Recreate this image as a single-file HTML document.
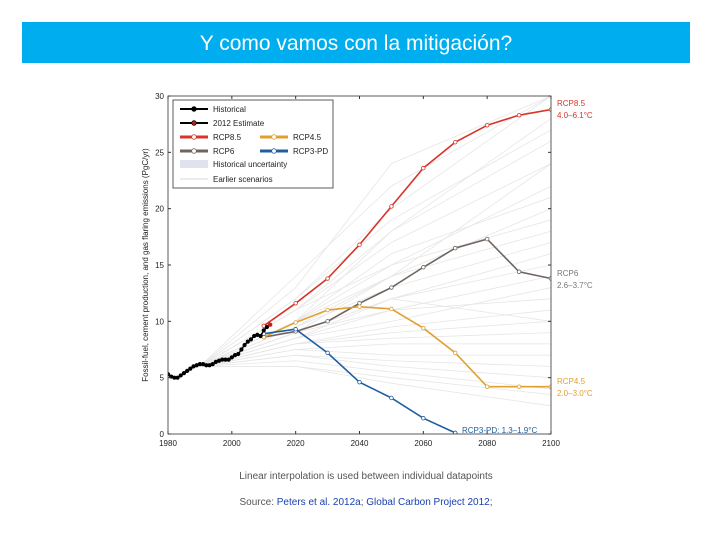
<!DOCTYPE html>
<html><head><meta charset="utf-8"><style>
body{margin:0;width:720px;height:540px;background:#fff;font-family:"Liberation Sans",sans-serif;overflow:hidden;position:relative}
#title{position:absolute;left:22px;top:22px;width:668px;height:41px;background:#00aeef;color:#fff;font-size:21px;text-align:center;line-height:44px}
.cap{position:absolute;width:720px;left:6px;text-align:center;font-size:10px;color:#555}
.cap a{color:#1a3fb0}
svg{position:absolute;left:0;top:0}
</style></head><body>
<div id="title">Y como vamos con la mitigación?</div>
<svg id="chart" width="720" height="540"></svg>
<div class="cap" style="top:471px">Linear interpolation is used between individual datapoints</div>
<div class="cap" style="top:497px">Source: <a>Peters et al. 2012a</a>; <a>Global Carbon Project 2012</a>;</div>
<script>
const xTicks=[1980,2000,2020,2040,2060,2080,2100];
const yTicks=[0,5,10,15,20,25,30];
const decades=[2010,2020,2030,2040,2050,2060,2070,2080,2090,2100];
const rcp85=[9.6,11.6,13.8,16.8,20.2,23.6,25.9,27.4,28.3,28.8];
const rcp6=[8.6,9.1,10.0,11.6,13.0,14.8,16.5,17.3,14.4,13.8];
const rcp45=[8.6,9.9,11.0,11.3,11.1,9.4,7.2,4.2,4.2,4.2];
const rcp3=[8.9,9.3,7.2,4.6,3.2,1.4,0.1];
const histYears=[1980,1981,1982,1983,1984,1985,1986,1987,1988,1989,1990,1991,1992,1993,1994,1995,1996,1997,1998,1999,2000,2001,2002,2003,2004,2005,2006,2007,2008,2009,2010,2011];
const histVals=[5.3,5.1,5.0,5.0,5.2,5.4,5.6,5.8,6.0,6.1,6.2,6.2,6.1,6.1,6.2,6.4,6.5,6.6,6.6,6.6,6.8,7.0,7.1,7.5,7.9,8.2,8.4,8.7,8.8,8.7,9.2,9.5];
const est2012=9.7;
const scenYears=[1990,2020,2050,2100];
const scenarios=[[6,14,22,30],[6,13,24,30],[6,12,20,30],[6,12,19,27],[6,11,18,26],[6,11,17,24],[6,10,15,22],[6,10,16,21],[6,10,14,20],[6,9.5,14,18],[6,9.5,13,17],[6,9,12,16],[6,9,12,15],[6,9,11,14],[6,8.5,10,13],[6,8.5,11,12],[6,8,9.5,11],[6,8,9,10],[6,8,8.5,9],[6,7.5,8,8],[6,7.5,7,7],[6,7,6.5,6],[6,7,6,5],[6,6.5,5.5,4],[6,6,5,3.5],[6,6,4.5,2.5],[6,9,14,24],[6,10,18,28],[6,11,15,19],[6,8.5,12,10]];
const NS='http://www.w3.org/2000/svg';
const svg=document.getElementById('chart');
const X0=168,X1=551,Y0=434,Y1=96;
const xs=v=>X0+(v-1980)*(X1-X0)/120;
const ys=v=>Y0-v*(Y0-Y1)/30;
function el(t,a,p){const e=document.createElementNS(NS,t);for(const k in a)e.setAttribute(k,a[k]);(p||svg).appendChild(e);return e;}
const clip=el('clipPath',{id:'pc'});el('rect',{x:X0,y:Y1,width:X1-X0,height:Y0-Y1},clip);
const plot=el('g',{'clip-path':'url(#pc)'});
scenarios.forEach(s=>{const l=el('polyline',{points:scenYears.map((y,i)=>xs(y)+','+ys(s[i])).join(' '),fill:'none',stroke:'#e6e6e6','stroke-width':0.8},plot);

});
function series(vals,color,name,sw){
 const pts=vals.map((v,i)=>[xs(decades[i]),ys(v)]);
 const l=el('polyline',{points:pts.map(p=>p.join(',')).join(' '),fill:'none',stroke:color,'stroke-width':sw||1.6},plot);
 
 
 pts.forEach(p=>{const c=el('circle',{cx:p[0],cy:p[1],r:1.8,fill:'#fff',stroke:color,'stroke-width':0.8},plot);
 
 });
}
series(rcp6,'#6e6560','rcp6');
series(rcp45,'#e0a030','rcp45');
series(rcp3,'#1f5fa0','rcp3pd');
series(rcp85,'#d8352a','rcp85');
const hp=histYears.map((y,i)=>xs(y)+','+ys(histVals[i])).join(' ');
const hl=el('polyline',{points:hp,fill:'none',stroke:'#000','stroke-width':1.5},plot);


histYears.forEach((y,i)=>{const c=el('circle',{cx:xs(y),cy:ys(histVals[i]),r:2.1,fill:'#000'},plot);

});
const ec=el('circle',{cx:xs(2012),cy:ys(est2012),r:2.2,fill:'#c0201a'},plot);


el('rect',{x:X0,y:Y1,width:X1-X0,height:Y0-Y1,fill:'none',stroke:'#333','stroke-width':0.8});
xTicks.forEach(t=>{el('line',{x1:xs(t),x2:xs(t),y1:Y0,y2:Y0-3,stroke:'#333'});el('line',{x1:xs(t),x2:xs(t),y1:Y1,y2:Y1+3,stroke:'#333'});
const tx=el('text',{x:xs(t),y:Y0+12,'text-anchor':'middle','font-size':8,fill:'#222'});tx.textContent=t;

});
yTicks.forEach(t=>{el('line',{x1:X0,x2:X0+3,y1:ys(t),y2:ys(t),stroke:'#333'});el('line',{x1:X1,x2:X1-3,y1:ys(t),y2:ys(t),stroke:'#333'});
const tx=el('text',{x:X0-4,y:ys(t)+3,'text-anchor':'end','font-size':8,fill:'#222'});tx.textContent=t;

});
const yt=el('text',{x:0,y:0,transform:'translate(148,265) rotate(-90)','text-anchor':'middle','font-size':8,fill:'#222'});
yt.textContent='Fossil-fuel, cement production, and gas flaring emissions (PgC/yr)';


function lab(x,y,t,c,n){const e=el('text',{x:x,y:y,'font-size':8,fill:c});e.textContent=t;}
lab(557,106,'RCP8.5','#d8352a','rcp85-label');lab(557,118,'4.0–6.1°C','#d8352a','rcp85-range');
lab(557,276,'RCP6','#777','rcp6-label');lab(557,288,'2.6–3.7°C','#777','rcp6-range');
lab(557,384,'RCP4.5','#e0a030','rcp45-label');lab(557,396,'2.0–3.0°C','#e0a030','rcp45-range');
lab(462,433,'RCP3-PD: 1.3–1.9°C','#1f5fa0','rcp3pd-label');
const lg=el('g',{});
el('rect',{x:173,y:100,width:160,height:88,fill:'#fff',stroke:'#333','stroke-width':0.8},lg);
function le(y,c,t,x,mk,w){el('line',{x1:x,x2:x+28,y1:y,y2:y,stroke:c,'stroke-width':w||2},lg);
 if(mk)el('circle',{cx:x+14,cy:y,r:2.3,fill:mk,stroke:c,'stroke-width':0.8},lg);
 const tx=el('text',{x:x+33,y:y+3,'font-size':8,fill:'#222'},lg);tx.textContent=t;}
le(109,'#000','Historical',180,'#000');
le(123,'#000','2012 Estimate',180,'#c0201a');
le(137,'#d8352a','RCP8.5',180,'#fff',3);
le(137,'#e0a030','RCP4.5',260,'#fff',3);
le(151,'#6e6560','RCP6',180,'#fff',3);
le(151,'#1f5fa0','RCP3-PD',260,'#fff',3);
el('rect',{x:180,y:160,width:28,height:8,fill:'#e0e2ee'},lg);
let tx=el('text',{x:213,y:167,'font-size':8,fill:'#222'},lg);tx.textContent='Historical uncertainty';
el('line',{x1:180,x2:208,y1:179,y2:179,stroke:'#ccc','stroke-width':0.8},lg);
tx=el('text',{x:213,y:182,'font-size':8,fill:'#222'},lg);tx.textContent='Earlier scenarios';
</script>
</body></html>
